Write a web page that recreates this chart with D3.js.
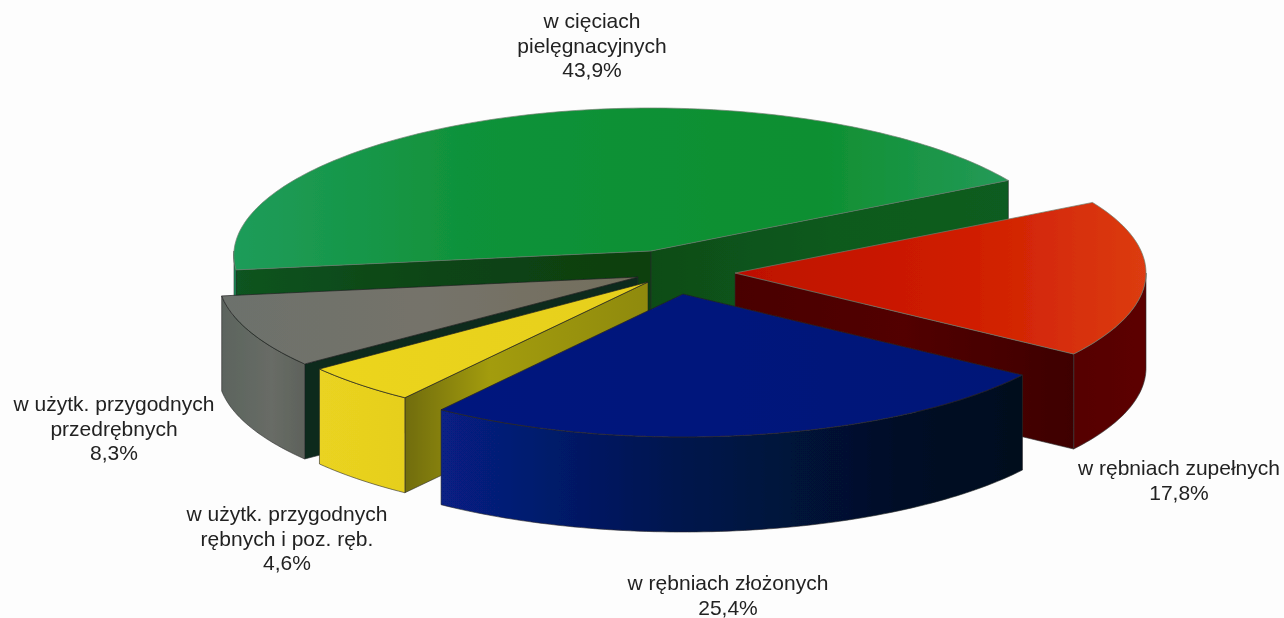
<!DOCTYPE html>
<html><head><meta charset="utf-8">
<script src="https://cdn.jsdelivr.net/npm/d3@7/dist/d3.min.js"></script>
<style>html,body{margin:0;padding:0;background:#fdfdfd}svg{display:block}</style>
</head><body>
<svg id="c" width="1284" height="618"></svg>
<script>
// Data
const categories = ["w cięciach pielęgnacyjnych","w rębniach zupełnych","w rębniach złożonych","w użytk. przygodnych rębnych i poz. ręb.","w użytk. przygodnych przedrębnych"];
const values = [43.9,17.8,25.4,4.6,8.3];
const labelLines = [["w cięciach","pielęgnacyjnych"],["w rębniach zupełnych"],["w rębniach złożonych"],["w użytk. przygodnych","rębnych i poz. ręb."],["w użytk. przygodnych","przedrębnych"]];
// Layout of the exploded slices
const apexX = [651,735,683,648,638];
const apexY = [251,273,294,282,277];
const radiusX = [417,411,412,414,420];
const tapers = [0.03,0,0,0,0];
const radiusY = 143, depth = 95;
const labelX = [592,1179,728,287,114];
const labelY = [28,475,590,521,411];
// Colours
const topStops = [
 [["0","#1f9c5a"],["0.3","#10923a"],["0.75","#0e8f30"],["1","#249a58"]],
 [["0","#bd1004"],["0.55","#cf1c00"],["1","#dc3c12"]],
 [["0","#06197e"],["1","#051778"]],
 [["0","#ecd51e"],["1","#e6cf1c"]],
 [["0","#6c716c"],["0.5","#75736a"],["1","#736e5c"]]
];
const wallStops = [
 [["0","#1b9a60"],["1","#1b9a60"]],
 [["0","#560606"],["1","#5c0505"]],
 [["0","#072084"],["0.4","#03144e"],["0.8","#011026"],["1","#00101e"]],
 [["0","#ead320"],["1","#e6cf1e"]],
 [["0","#5c645e"],["0.6","#686c66"],["1","#5e625b"]]
];
const startFaceStops = [
 [["0","#0b5420"],["0.5","#084414"],["1","#07400f"]],
 [["0","#000"],["1","#000"]],
 [["0","#000"],["1","#000"]],
 [["0","#706c10"],["0.35","#a39c10"],["1","#8f8a10"]],
 [["0","#0c2a1e"],["1","#0c2a1e"]]
];
const endFaceStops = [
 [["0","#0a4c18"],["0.5","#0a5a1c"],["1","#0a5c20"]],
 [["0","#4a0404"],["0.5","#520404"],["1","#3e0303"]],
 [["0","#000"],["1","#000"]],
 [["0","#000"],["1","#000"]],
 [["0","#000"],["1","#000"]]
];

const svg = d3.select("#c");
const defs = svg.append("defs");
defs.append("filter").attr("id","soft").append("feGaussianBlur").attr("stdDeviation",0.45);
function grad(id,stops){
  const g = defs.append("linearGradient").attr("id",id);
  g.selectAll("stop").data(stops).join("stop").attr("offset",d=>d[0]).attr("stop-color",d=>d[1]);
  return `url(#${id})`;
}
const pie = d3.pie().sort(null).value(d=>d)
  .startAngle(262.4*Math.PI/180).endAngle((262.4+360)*Math.PI/180);
const arcs = pie(values);
const root = svg.append("g").attr("filter","url(#soft)");
const line = d3.line();

function rim(i,a){
  const u=Math.sin(a), v=-Math.cos(a);
  return [apexX[i]+u*radiusX[i]*(1+tapers[i]*v), apexY[i]+v*radiusY];
}
function sampled(i,a0,a1){
  const n=Math.max(2,Math.ceil(Math.abs(a1-a0)/0.02));
  return d3.range(n+1).map(k=>rim(i,a0+(a1-a0)*k/n));
}
const down = p=>[p[0],p[1]+depth];
const drawOrder = [0,1,4,3,2];
drawOrder.forEach(i=>{
  const a=arcs[i], s=a.startAngle, e=a.endAngle;
  const apex=[apexX[i],apexY[i]];
  const g=root.append("g");
  const stroke="#2a2a2a";
  // front-facing cut faces
  if(Math.sin(s)<0){
    const P=rim(i,s);
    g.append("path").attr("d",line([apex,P,down(P),down(apex)])+"Z")
     .attr("fill",grad("fs"+i,startFaceStops[i])).attr("stroke",stroke).attr("stroke-width",0.6);
  }
  if(Math.sin(e)>0){
    const P=rim(i,e);
    g.append("path").attr("d",line([apex,P,down(P),down(apex)])+"Z")
     .attr("fill",grad("fe"+i,endFaceStops[i])).attr("stroke",stroke).attr("stroke-width",0.6);
  }
  // outer wall: every front-facing stretch of the rim
  [[Math.PI/2,3*Math.PI/2],[Math.PI/2+2*Math.PI,3*Math.PI/2+2*Math.PI]].forEach(r=>{
    const a0=Math.max(s,r[0]), a1=Math.min(e,r[1]);
    if(a1>a0){
      const up=sampled(i,a0,a1), lo=up.map(down).reverse();
      g.append("path").attr("d",line(up.concat(lo))+"Z")
       .attr("fill",grad("w"+i+"_"+Math.round(r[0]),wallStops[i])).attr("stroke",stroke).attr("stroke-width",0.6);
    }
  });
  // top face
  g.append("path").attr("d",line([apex].concat(sampled(i,s,e)))+"Z")
   .attr("fill",grad("t"+i,topStops[i]))
   .attr("stroke",i<2?"#6f7f70":"#222").attr("stroke-width",0.7);
});

// Labels
const pct = v=>d3.format(".1f")(v).replace(".",",")+"%";
const lineH = 24.7;
const labels = svg.append("g").attr("font-family","'Liberation Sans',Arial,sans-serif")
  .attr("font-size",21).attr("fill","#222").attr("text-anchor","middle").attr("filter","url(#soft)");
categories.forEach((c,i)=>{
  labelLines[i].concat([pct(values[i])]).forEach((t,k)=>{
    labels.append("text").attr("x",labelX[i]).attr("y",labelY[i]+k*lineH).text(t);
  });
});
</script>
</body></html>
